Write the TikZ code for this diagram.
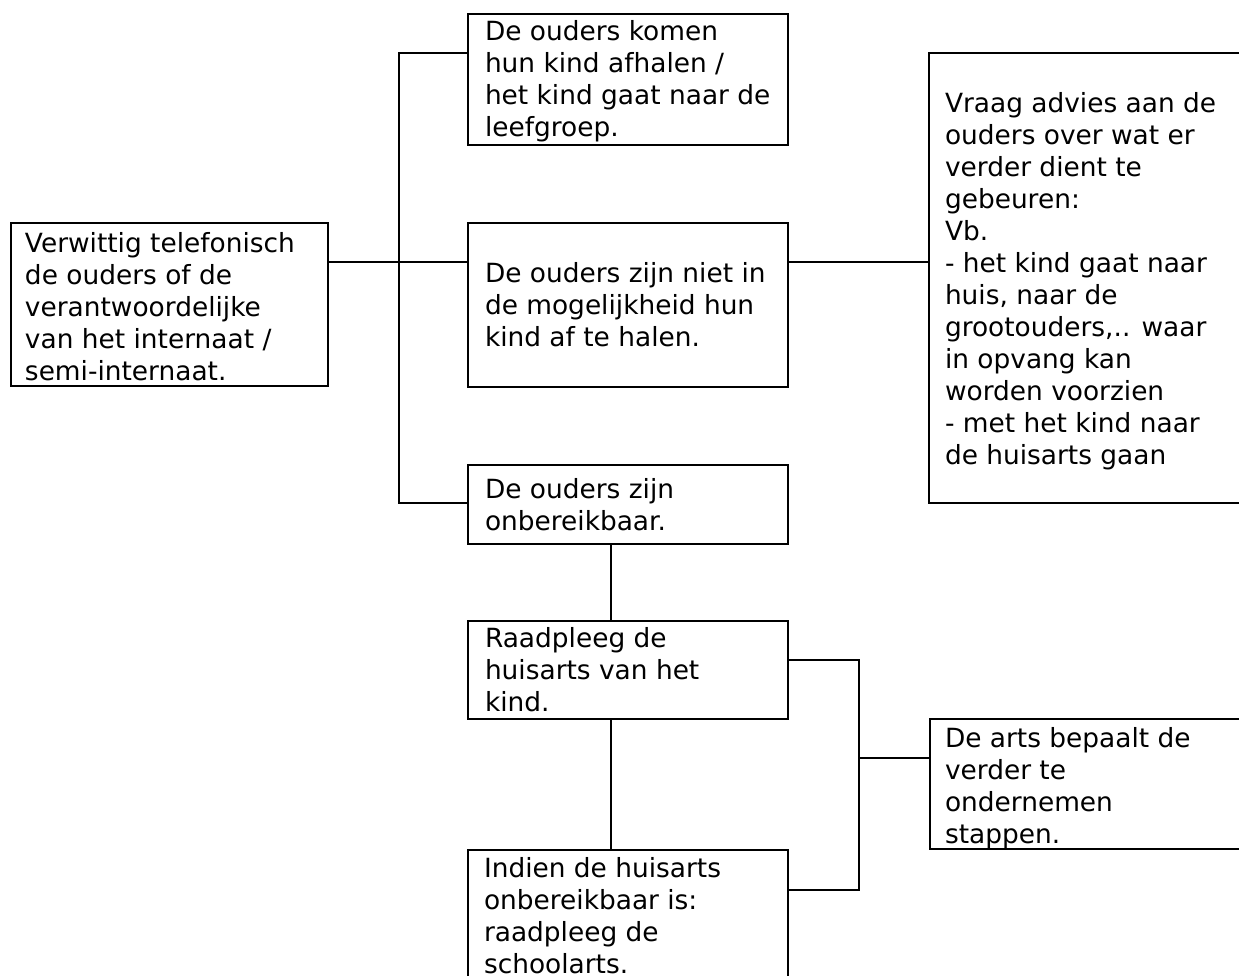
\documentclass[tikz,border=0pt]{standalone}
\usepackage{fontspec}
\setmainfont{DejaVu Sans}
\usetikzlibrary{calc,fit}
\tikzset{
  box/.style={draw, line width=1.1pt, inner sep=0pt, outer sep=0pt, rectangle},
  conn/.style={line width=1.1pt},
  txt/.style={anchor=base west, inner sep=0pt, outer sep=0pt}
}
\newcommand\tbox[1]{\parbox[t]{200pt}{\fontsize{13.2pt}{16pt}\selectfont\raggedright #1}}
\begin{document}
\begin{tikzpicture}[x=0.5pt,y=-0.5pt]
\path[use as bounding box, fill=white] (0,0) rectangle (1239,976);
\clip (0,0) rectangle (1239,976);

% boxes
\node[box, fit={(11,223) (328,386)}] (A) {};
\node[box, fit={(468,14) (788,145)}] (B) {};
\node[box, fit={(468,223) (788,387)}] (C) {};
\node[box, fit={(929,53) (1260,503)}] (D) {};
\node[box, fit={(468,465) (788,544)}] (E) {};
\node[box, fit={(468,621) (788,719)}] (F) {};
\node[box, fit={(468,850) (788,1000)}] (G) {};
\node[box, fit={(930,719) (1260,849)}] (H) {};

% texts
\node[txt] (tA) at (25,252) {\tbox{Verwittig telefonisch\\de ouders of de\\verantwoordelijke\\van het internaat /\\semi-internaat.}};
\node[txt] (tB) at (485,40) {\tbox{De ouders komen\\hun kind afhalen /\\het kind gaat naar de\\leefgroep.}};
\node[txt] (tC) at (485,282) {\tbox{De ouders zijn niet in\\de mogelijkheid hun\\kind af te halen.}};
\node[txt] (tD) at (945,112) {\tbox{Vraag advies aan de\\ouders over wat er\\verder dient te\\gebeuren:\\Vb.\\- het kind gaat naar\\huis, naar de\\grootouders,.. waar\\in opvang kan\\worden voorzien\\- met het kind naar\\de huisarts gaan}};
\node[txt] (tE) at (485,498) {\tbox{De ouders zijn\\onbereikbaar.}};
\node[txt] (tF) at (485,647) {\tbox{Raadpleeg de\\huisarts van het\\kind.}};
\node[txt] (tG) at (484,877) {\tbox{Indien de huisarts\\onbereikbaar is:\\raadpleeg de\\schoolarts.}};
\node[txt] (tH) at (945,747) {\tbox{De arts bepaalt de\\verder te\\ondernemen\\stappen.}};

% junction coordinates
\coordinate (j1) at (399,262);
\coordinate (bt) at (399,53);
\coordinate (bb) at (399,503);
\coordinate (vx) at (611,0);
\coordinate (k1) at (859,660);
\coordinate (k2) at (859,890);
\coordinate (k3) at (859,758);

% connectors
\draw[conn] (A.east |- j1) -- (C.west |- j1);
\draw[conn] (B.west |- bt) -- (bt) -- (bb) -- (E.west |- bb);
\draw[conn] (C.east |- j1) -- (D.west |- j1);
\draw[conn] (E.south -| vx) -- (F.north -| vx);
\draw[conn] (F.south -| vx) -- (G.north -| vx);
\draw[conn] (F.east |- k1) -- (k1) -- (k2) -- (G.east |- k2);
\draw[conn] (k3) -- (H.west |- k3);
\end{tikzpicture}
\end{document}
